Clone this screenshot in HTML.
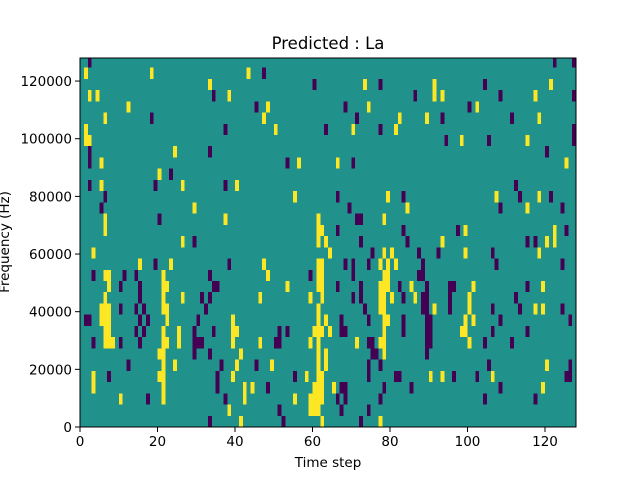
<!DOCTYPE html>
<html><head><meta charset="utf-8"><style>
html,body{margin:0;padding:0;background:#fff;}
svg{display:block;font-family:"DejaVu Sans","Liberation Sans",sans-serif;}
</style></head><body>
<svg id="chart" width="640" height="480" viewBox="0 0 640 480">
<rect width="640" height="480" fill="#fff"/>
<text x="328" y="49" font-size="16.5" text-anchor="middle" fill="#000">Predicted : La</text>
<g id="plot"></g>
<g id="axes"></g>
<text x="328" y="467" font-size="13.5" text-anchor="middle">Time step</text>
<text transform="translate(9,242) rotate(-90)" font-size="13.5" text-anchor="middle">Frequency (Hz)</text>
</svg>
<script>
const nSteps = 128;
const nBins = 33;
const binHz = 3896;
const yMax = 128000;
const xTicks = [0,20,40,60,80,100,120];
const yTicks = [0,20000,40000,60000,80000,100000,120000];
const hiCells = [[1,31],[18,31],[43,31],[33,30],[2,29],[4,29],[38,29],[12,28],[6,27],[1,26],[1,25],[2,25],[24,24],[5,23],[20,22],[5,21],[26,21],[40,21],[29,19],[6,18],[37,18],[6,17],[26,16],
[3,15],[15,14],[23,14],[6,13],[7,13],[21,13],[7,12],[21,12],[22,12],[6,11],[21,11],[26,11],[5,10],[6,10],[7,10],[21,10],[22,10],[5,9],[6,9],[7,9],[22,9],[39,9],[6,8],[7,8],[21,8],[25,8],[39,8],[40,8],[6,7],[7,7],[8,7],[21,7],[22,7],[25,7],[39,7],[20,6],[21,6],[41,6],[21,5],[24,5],[40,5],[3,4],[20,4],[21,4],[39,4],[3,3],[21,3],[42,3],[10,2],[21,2],[42,2],[38,1],[41,0],
[73,30],[48,28],[74,28],[47,27],[82,27],[50,26],[70,26],[81,26],[56,23],[66,23],[55,20],[79,20],[84,19],[61,18],[78,18],[61,17],[62,17],[61,16],[63,16],
[64,15],[78,15],[80,15],[47,14],[61,14],[62,14],[77,14],[79,14],[81,14],[48,13],[61,13],[62,13],[78,13],[79,13],[53,12],[61,12],[62,12],[77,12],[78,12],[79,12],[85,12],[46,11],[59,11],[62,11],[77,11],[78,11],[80,11],[86,11],[61,10],[77,10],[78,10],[61,9],[63,9],[78,9],[79,9],[60,8],[61,8],[62,8],[64,8],[78,8],[46,7],[59,7],[61,7],[71,7],[77,7],[78,7],[61,6],[63,6],[78,6],[49,5],[61,5],[63,5],[58,4],[61,4],[62,4],[44,3],[60,3],[61,3],[62,3],[65,3],[55,2],[59,2],[60,2],[61,2],[62,2],[59,1],[60,1],[61,1],[62,0],[77,0],
[91,30],[121,30],[91,29],[93,29],[117,29],[102,28],[89,27],[118,27],[98,25],[115,25],[125,23],[107,20],[118,20],[115,19],[99,17],[122,17],[93,16],[120,16],[122,16],
[99,15],[118,15],[101,12],[119,12],[100,11],[91,10],[100,10],[117,10],[119,10],[99,9],[101,9],[98,8],[99,8],[100,7],[120,5],[90,4],[93,4],[106,4],[119,3]];
const loCells = [[2,32],[34,29],[18,27],[37,26],[2,24],[33,24],[2,23],[23,22],[2,21],[19,21],[37,21],[6,20],[5,19],[20,18],[29,16],
[38,14],[19,14],[3,13],[11,13],[14,13],[33,13],[10,12],[15,12],[34,12],[35,12],[15,11],[31,11],[33,11],[10,10],[14,10],[16,10],[32,10],[1,9],[2,9],[15,9],[17,9],[30,9],[14,8],[16,8],[29,8],[34,8],[3,7],[10,7],[15,7],[29,7],[30,7],[31,7],[29,6],[33,6],[12,5],[36,5],[7,4],[35,4],[35,3],[17,2],[37,2],[33,0],
[47,31],[60,30],[77,30],[86,29],[45,28],[68,28],[71,27],[63,26],[77,26],[53,23],[70,23],[66,20],[83,20],[69,19],[71,18],[72,18],[66,17],[83,17],[72,16],[84,16],
[75,15],[87,15],[68,14],[70,14],[74,14],[59,13],[70,13],[87,13],[66,12],[72,12],[82,12],[70,11],[72,11],[83,11],[73,10],[67,9],[74,9],[83,9],[51,8],[53,8],[67,8],[68,8],[83,8],[50,7],[51,7],[74,7],[75,7],[75,6],[76,6],[45,5],[74,5],[77,5],[55,4],[74,4],[81,4],[82,4],[48,3],[67,3],[68,3],[78,3],[85,3],[66,2],[68,2],[77,2],[51,1],[67,1],[74,1],[52,0],[72,0],
[122,32],[127,32],[104,30],[108,29],[127,29],[100,28],[93,27],[111,27],[127,26],[94,25],[105,25],[127,25],[120,24],[112,21],[113,20],[121,20],[108,19],[124,19],[97,17],[125,17],[115,16],[117,16],
[92,15],[106,15],[88,14],[107,14],[124,14],[88,13],[89,12],[95,12],[96,12],[115,12],[88,11],[89,11],[95,11],[112,11],[88,10],[89,10],[95,10],[106,10],[113,10],[124,10],[89,9],[90,9],[108,9],[126,9],[89,8],[90,8],[106,8],[115,8],[89,7],[90,7],[104,7],[111,7],[89,6],[105,5],[126,5],[96,4],[102,4],[125,4],[126,4],[108,3],[104,2],[117,2]];

const NS='http://www.w3.org/2000/svg';
const L=80,R=576,T=58,B=427;
function xs(v){return L+(v/nSteps)*(R-L);}
function ys(v){return B-(v/yMax)*(B-T);}
function mk(tag,attrs,parent){const e=document.createElementNS(NS,tag);for(const k in attrs)e.setAttribute(k,attrs[k]);parent.appendChild(e);return e;}
const plot=document.getElementById('plot');
const axes=document.getElementById('axes');
const clip=mk('clipPath',{id:'pc'},plot);
mk('rect',{x:L,y:T,width:R-L,height:B-T},clip);
const g=mk('g',{'clip-path':'url(#pc)','shape-rendering':'crispEdges'},plot);
const bg=mk('rect',{x:L,y:T,width:R-L,height:B-T,fill:'#21918c'},g);


function cell(c,color,name){
  const x0=xs(c[0]),x1=xs(c[0]+1),y0=ys(c[1]*binHz),y1=ys((c[1]+1)*binHz);
  const r=mk('rect',{x:x0,y:y1,width:x1-x0,height:y0-y1,fill:color},g);
  
  
}
hiCells.forEach(c=>cell(c,'#fde725','heatmap-cell-high'));
loCells.forEach(c=>cell(c,'#440154','heatmap-cell-low'));
// frame
const fr=mk('rect',{x:L,y:T,width:R-L,height:B-T,fill:'none',stroke:'#000','stroke-width':1},axes);


xTicks.forEach(t=>{
  const x=xs(t);
  const l=mk('line',{x1:x,x2:x,y1:B,y2:B+5,stroke:'#000','stroke-width':1},axes);
  
  
  const tx=mk('text',{x:x,y:B+19,'font-size':13.5,'text-anchor':'middle'},axes);
  tx.textContent=t;
  
  
});
yTicks.forEach(t=>{
  const y=ys(t);
  const l=mk('line',{x1:L-5,x2:L,y1:y,y2:y,stroke:'#000','stroke-width':1},axes);
  
  
  const tx=mk('text',{x:L-8,y:y+5,'font-size':13.5,'text-anchor':'end'},axes);
  tx.textContent=t;
  
  
});
</script>
</body></html>
